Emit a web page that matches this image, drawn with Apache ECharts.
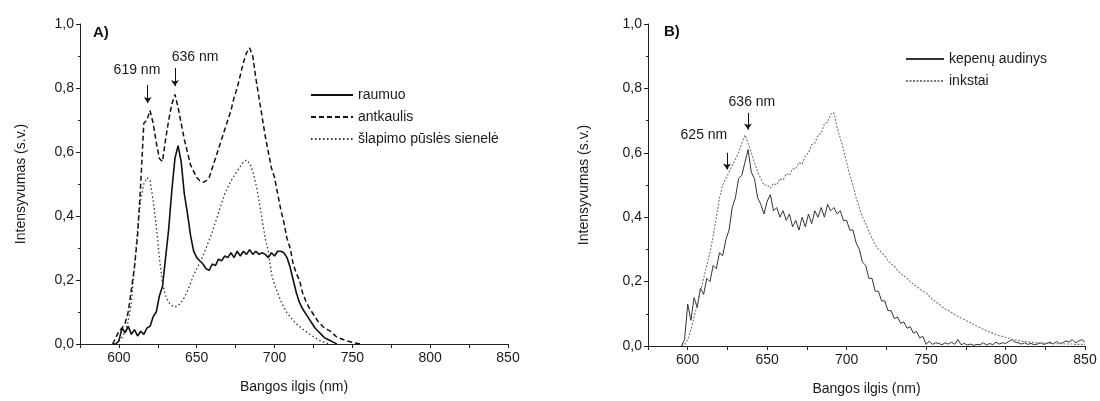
<!DOCTYPE html>
<html>
<head>
<meta charset="utf-8">
<script src="https://cdn.jsdelivr.net/npm/echarts@6/dist/echarts.min.js"></script>
<style>html,body{margin:0;padding:0;background:#fff}#c{width:1100px;height:401px}</style>
</head>
<body>
<div id="c"></div>
<script>
// Panel A wavelengths: 596..760 step 2 nm
const aStart = 596, aStep = 2;
const raumuo = [0,0,0.01,0.05,0.035,0.055,0.03,0.045,0.025,0.04,0.03,0.05,0.055,0.085,0.1,0.15,0.18,0.27,0.36,0.48,0.58,0.62,0.57,0.47,0.41,0.34,0.29,0.27,0.26,0.25,0.235,0.23,0.25,0.245,0.265,0.26,0.275,0.27,0.285,0.27,0.29,0.275,0.29,0.28,0.295,0.28,0.29,0.28,0.285,0.28,0.27,0.285,0.275,0.29,0.29,0.285,0.27,0.24,0.2,0.16,0.13,0.11,0.095,0.08,0.065,0.05,0.04,0.03,0.02,0.015,0.01,0.005,0,null,null,null,null,null,null,null,null,null,null];
const antkaulis = [0,0.02,0.04,0.05,0.065,0.1,0.17,0.24,0.34,0.5,0.69,0.7,0.73,0.69,0.63,0.58,0.57,0.64,0.7,0.75,0.78,0.74,0.69,0.64,0.6,0.56,0.54,0.52,0.51,0.505,0.51,0.52,0.55,0.58,0.61,0.64,0.67,0.7,0.73,0.77,0.8,0.84,0.88,0.91,0.925,0.9,0.83,0.77,0.71,0.65,0.6,0.55,0.52,0.47,0.42,0.38,0.33,0.3,0.25,0.22,0.2,0.16,0.135,0.115,0.1,0.085,0.07,0.06,0.05,0.045,0.04,0.03,0.022,0.018,0.014,0.01,0.008,0.005,0.003,0.001,0,null,null];
const slapimo = [null,0,0.01,0.02,0.04,0.07,0.13,0.24,0.36,0.45,0.5,0.52,0.51,0.45,0.37,0.27,0.19,0.15,0.13,0.12,0.115,0.12,0.13,0.145,0.165,0.19,0.215,0.235,0.255,0.275,0.3,0.325,0.35,0.38,0.41,0.44,0.47,0.49,0.51,0.525,0.54,0.555,0.57,0.575,0.565,0.54,0.5,0.45,0.39,0.33,0.29,0.22,0.185,0.16,0.135,0.115,0.097,0.085,0.073,0.063,0.055,0.047,0.04,0.033,0.026,0.02,0.014,0.009,0.005,0.002,0,null,null,null,null,null,null,null,null,null,null,null,null];
// Panel B wavelengths: 596..850 step 2 nm
const bStart = 596, bStep = 2;
const kepenu = [0,0.02,0.13,0.08,0.15,0.12,0.18,0.16,0.21,0.2,0.25,0.24,0.29,0.28,0.33,0.36,0.43,0.46,0.52,0.53,0.57,0.61,0.54,0.52,0.46,0.44,0.41,0.45,0.47,0.42,0.43,0.4,0.42,0.39,0.41,0.37,0.39,0.36,0.4,0.37,0.41,0.38,0.42,0.4,0.43,0.4,0.44,0.42,0.43,0.41,0.42,0.39,0.39,0.36,0.36,0.32,0.3,0.26,0.25,0.21,0.21,0.17,0.17,0.14,0.14,0.11,0.11,0.085,0.09,0.07,0.075,0.055,0.06,0.04,0.045,0.025,0.03,0.005,0.015,0.005,0.01,0.008,0.004,0.01,0.006,0.012,0.005,0.02,0.004,0.008,0.003,0.006,0.002,0.005,0.004,0.01,0.003,0.008,0.004,0.012,0.006,0.01,0.008,0.014,0.02,0.012,0.01,0.006,0.01,0.005,0.008,0.004,0.006,0.01,0.005,0.008,0.012,0.006,0.014,0.008,0.01,0.016,0.012,0.02,0.01,0.015,0.02,0.012];
const inkstai = [0,0.005,0.02,0.05,0.09,0.13,0.17,0.21,0.25,0.29,0.34,0.4,0.46,0.5,0.52,0.54,0.56,0.58,0.6,0.63,0.655,0.63,0.6,0.57,0.54,0.52,0.5,0.5,0.49,0.505,0.5,0.52,0.515,0.535,0.53,0.55,0.55,0.57,0.565,0.59,0.6,0.625,0.63,0.655,0.66,0.69,0.695,0.72,0.725,0.68,0.645,0.61,0.57,0.53,0.5,0.46,0.43,0.4,0.38,0.355,0.335,0.315,0.3,0.29,0.28,0.265,0.255,0.248,0.235,0.225,0.218,0.21,0.2,0.192,0.185,0.178,0.17,0.165,0.155,0.145,0.138,0.13,0.122,0.115,0.11,0.104,0.097,0.092,0.087,0.082,0.077,0.072,0.066,0.061,0.057,0.052,0.047,0.043,0.04,0.036,0.032,0.03,0.027,0.024,0.021,0.019,0.017,0.015,0.014,0.013,0.012,0.011,0.01,0.01,0.009,0.009,0.008,0.008,0.007,0.007,0.007,0.006,0.006,0.006,0.005,0.005,0.005,0.005];
const xTickLabels = [600,650,700,750,800,850];
// annotations: [label, arrow x (nm), arrow top, arrow tip, text x, text y]
const annA = [['619 nm',618.5,0.81,0.753,611.6,0.856],['636 nm',636,0.8625,0.806,648.9,0.897]];
const annB = [['636 nm',637.9,0.724,0.672,640.4,0.758],['625 nm',624.7,0.6,0.548,610.2,0.656]];

function pairs(start, step, arr){ return arr.map((v,i)=>[start+i*step, v]); }
const FONT = 'Liberation Sans, Arial, sans-serif';
const TXT = '#1a1a1a';

function xAxis(gi){
  return {type:'value', gridIndex:gi, min:575, max:850, interval:25,
    name:'Bangos ilgis (nm)', nameLocation:'middle', nameGap:36,
    nameTextStyle:{fontFamily:FONT, fontSize:14, color:TXT},
    axisLine:{lineStyle:{color:'#222', width:1}},
    axisTick:{show:true, length:4, lineStyle:{color:'#222'}},
    axisLabel:{fontFamily:FONT, fontSize:14, color:TXT, margin:7,
      formatter:v=> xTickLabels.includes(v) ? String(v) : ''},
    splitLine:{show:false}};
}
function yAxis(gi, gap){
  return {type:'value', gridIndex:gi, min:0, max:1, interval:0.2,
    name:'Intensyvumas (s.v.)', nameLocation:'middle', nameGap:gap,
    nameTextStyle:{fontFamily:FONT, fontSize:14, color:TXT},
    axisLine:{show:true, lineStyle:{color:'#222', width:1}},
    axisTick:{show:true, length:4, lineStyle:{color:'#222'}},
    minorTick:{show:true, splitNumber:2, length:2, lineStyle:{color:'#222'}},
    axisLabel:{fontFamily:FONT, fontSize:14, color:TXT, margin:6,
      formatter:v=> v.toFixed(1).replace('.', ',')},
    splitLine:{show:false}};
}
function annot(list){
  return {
    markLine:{silent:true, animation:false, symbol:['none','arrow'], symbolSize:6,
      label:{show:false}, lineStyle:{color:'#111', type:'solid', width:1},
      data:list.map(a=>[{coord:[a[1],a[2]]},{coord:[a[1],a[3]]}])},
    markPoint:{silent:true, animation:false, symbol:'circle', symbolSize:0,
      data:list.map(a=>({coord:[a[4],a[5]], value:a[0],
        label:{show:true, position:'inside', formatter:a[0], fontFamily:FONT, fontSize:14, color:TXT}}))}
  };
}
function line(name, data, gi, style, extra){
  return Object.assign({name, type:'line', xAxisIndex:gi, yAxisIndex:gi, data,
    showSymbol:false, symbol:'none', connectNulls:false, animation:false,
    lineStyle:style, itemStyle:{color:style.color}}, extra||{});
}
const legendBase = {orient:'vertical', itemHeight:12, itemGap:8,
  itemStyle:{opacity:0, borderWidth:0},
  textStyle:{fontFamily:FONT, fontSize:14, color:TXT}};

const chart = echarts.init(document.getElementById('c'), null, {renderer:'canvas'});
chart.setOption({
  backgroundColor:'#fff',
  animation:false,
  grid:[{left:80, top:24, width:428, height:320},
        {left:648, top:24, width:437, height:323}],
  xAxis:[xAxis(0), xAxis(1)],
  yAxis:[yAxis(0, 52), yAxis(1, 57)],
  legend:[
    Object.assign({left:305, top:83, itemWidth:42,
     data:['raumuo','antkaulis','šlapimo pūslės sienelė']}, legendBase),
    Object.assign({left:900, top:47, itemWidth:38,
     data:['kepenų audinys','inkstai']}, legendBase)
  ],
  graphic:[
    {type:'text', left:93, top:25, style:{text:'A)', font:'bold 15px '+FONT, fill:'#111'}},
    {type:'text', left:664, top:24, style:{text:'B)', font:'bold 15px '+FONT, fill:'#111'}}
  ],
  series:[
    line('raumuo', pairs(aStart,aStep,raumuo), 0, {color:'#111', width:1.6, type:'solid'}, annot(annA)),
    line('antkaulis', pairs(aStart,aStep,antkaulis), 0, {color:'#111', width:1.5, type:[5,3]}),
    line('šlapimo pūslės sienelė', pairs(aStart,aStep,slapimo), 0, {color:'#333', width:1.3, type:[1.5,2.5]}),
    line('kepenų audinys', pairs(bStart,bStep,kepenu), 1, {color:'#333', width:1, type:'solid'}, annot(annB)),
    line('inkstai', pairs(bStart,bStep,inkstai), 1, {color:'#777', width:1.1, type:[2,1.5]})
  ]
});
</script>
</body>
</html>
